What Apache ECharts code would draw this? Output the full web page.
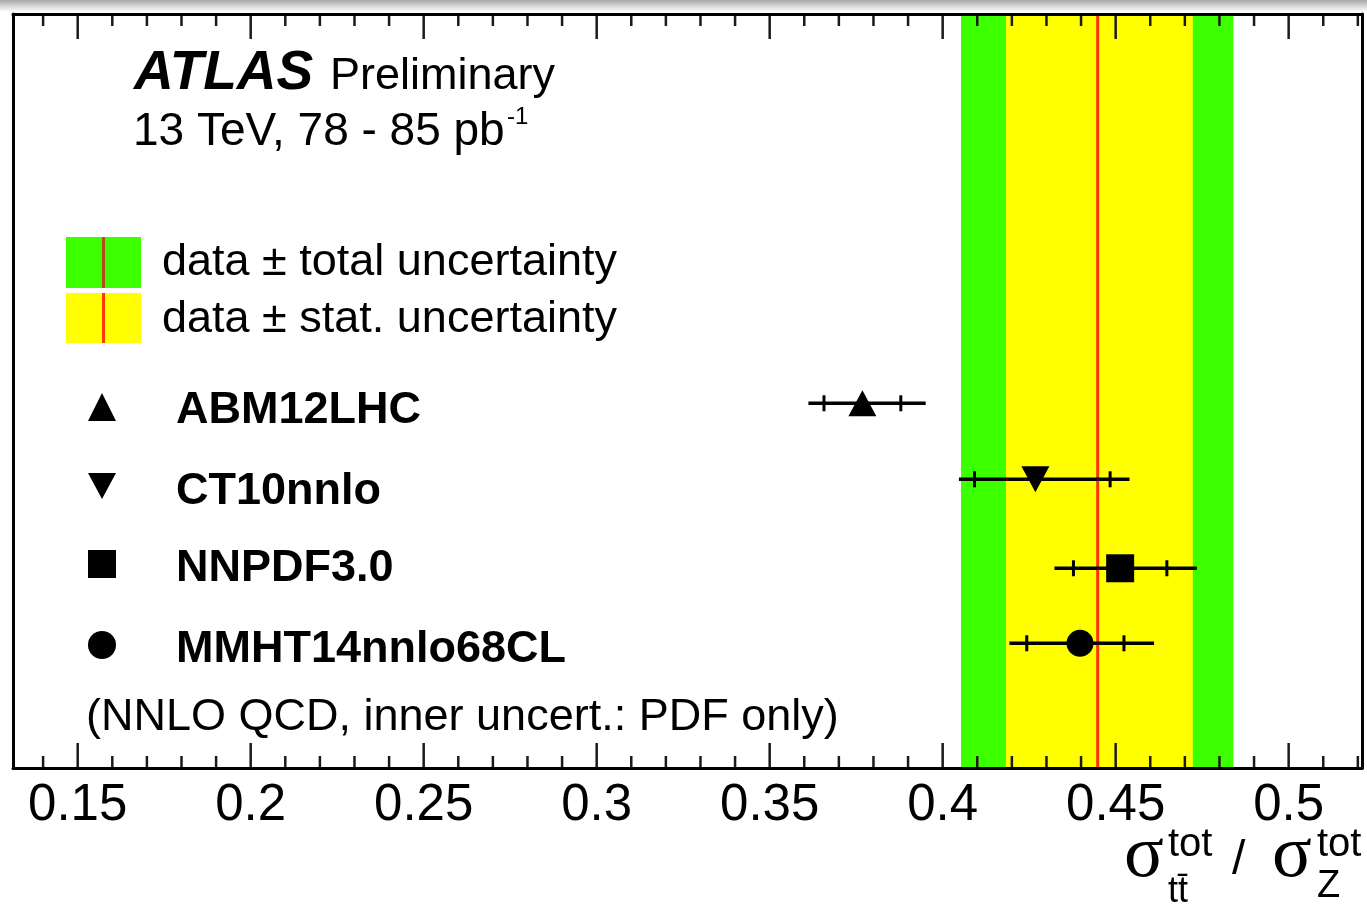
<!DOCTYPE html>
<html>
<head>
<meta charset="utf-8">
<script src="https://cdn.jsdelivr.net/npm/echarts@6/dist/echarts.min.js"></script>
<style>
html,body{margin:0;padding:0;background:#fff;}
#chart{width:1367px;height:910px;}
</style>
</head>
<body>
<div id="chart"></div>
<script>
// ---- data ----
const models = ['ABM12LHC', 'CT10nnlo', 'NNPDF3.0', 'MMHT14nnlo68CL'];
const modelSymbols = ['triangle', 'triangle', 'rect', 'circle'];
const modelRotate = [0, 180, 0, 0];
const rowPos = [0.4837, 0.3829, 0.2649, 0.1654];       // vertical slot of each prediction
const central = [0.3768, 0.4268, 0.4513, 0.4397];
const pdfLow  = [0.3657, 0.4092, 0.4378, 0.4243];
const pdfHigh = [0.3879, 0.4484, 0.4648, 0.4524];
const totLow  = [0.3612, 0.4047, 0.4323, 0.4193];
const totHigh = [0.3951, 0.4540, 0.4735, 0.4611];

const dataValue = 0.4448;
const statLow = 0.4183, statHigh = 0.4723;
const totalLow = 0.4053, totalHigh = 0.4840;

const xMin = 0.1313, xMax = 0.5212;
const majorTicks = [0.15, 0.2, 0.25, 0.3, 0.35, 0.4, 0.45, 0.5];
const minorTicks = [0.14, 0.16, 0.17, 0.18, 0.19, 0.21, 0.22, 0.23, 0.24, 0.26, 0.27, 0.28, 0.29,
  0.31, 0.32, 0.33, 0.34, 0.36, 0.37, 0.38, 0.39, 0.41, 0.42, 0.43, 0.44, 0.46, 0.47, 0.48, 0.49, 0.51, 0.52];

// ---- styling ----
const SANS = '"Liberation Sans", Arimo, Arial, Helvetica, sans-serif';
const SERIF = '"Liberation Serif", "DejaVu Serif", serif';
const GREEN = '#3cff00', YELLOW = '#ffff00', RED = '#ff3300';

const chart = echarts.init(document.getElementById('chart'), null, {renderer: 'canvas'});

function xAxisDef(position, showLabels) {
  return {
    type: 'value', position: position, min: xMin, max: xMax, z: 10,
    axisLine: {show: true, onZero: false, lineStyle: {color: '#000', width: 3}},
    axisTick: {show: false},
    axisLabel: showLabels ? {show: true, customValues: majorTicks, margin: 12, color: '#000',
      fontFamily: SANS, fontSize: 51} : {show: false},
    splitLine: {show: false}
  };
}
function yAxisDef(position) {
  return {
    type: 'value', position: position, min: 0, max: 1, z: 10,
    axisLine: {show: true, onZero: false, lineStyle: {color: '#000', width: 3}},
    axisTick: {show: false}, axisLabel: {show: false}, splitLine: {show: false}
  };
}

// inward tick marks on the bottom and top frame, through the x scale
function tickSeries(name, values, len) {
  return {
    name: name, type: 'custom', z: 6, silent: true, clip: false,
    data: values.map(v => [v, 0]),
    renderItem: function (params, api) {
      const v = api.value(0);
      const b = api.coord([v, 0]);
      const t = api.coord([v, 1]);
      const st = {stroke: '#1a1a1a', lineWidth: 2.5};
      return {type: 'group', children: [
        {type: 'line', shape: {x1: b[0], y1: b[1], x2: b[0], y2: b[1] - len}, style: st},
        {type: 'line', shape: {x1: t[0], y1: t[1], x2: t[0], y2: t[1] + len}, style: st}
      ]};
    }
  };
}

const txt = (text, x, y, size, extra) => Object.assign({
  type: 'text', x: x, y: y, z: 20,
  style: Object.assign({text: text, fill: '#000', font: size + 'px ' + SANS, textVerticalAlign: 'middle'}, extra || {})
});

const legendY = [407, 486, 564, 645];
const legendTextY = [411, 492, 569, 650];
const graphics = [
  {type: 'rect', x: 0, y: 0, z: 0, shape: {width: 1367, height: 12},
   style: {fill: new echarts.graphic.LinearGradient(0, 0, 0, 1, [
     {offset: 0, color: '#a8a8a8'}, {offset: 0.6, color: '#dedede'}, {offset: 1, color: '#ffffff'}])}},
  // ATLAS label
  {type: 'text', x: 134, y: 74, z: 20, style: {text: 'ATLAS', fill: '#000', font: 'italic bold 55px ' + SANS, textVerticalAlign: 'middle'}},
  txt('Preliminary', 330, 77, 45),
  txt('13 TeV, 78 - 85 pb', 133, 132, 46),
  txt('-1', 507, 117, 24),
  // band legend
  {type: 'rect', x: 66, y: 237, z: 20, shape: {width: 75, height: 51}, style: {fill: GREEN}},
  {type: 'rect', x: 102, y: 237, z: 21, shape: {width: 3, height: 51}, style: {fill: '#b24c18'}},
  {type: 'rect', x: 66, y: 293, z: 20, shape: {width: 75, height: 50}, style: {fill: YELLOW}},
  {type: 'rect', x: 102, y: 293, z: 21, shape: {width: 3, height: 50}, style: {fill: '#ff3a00'}},
  txt('data \u00b1 total uncertainty', 162, 263, 45),
  txt('data \u00b1 stat. uncertainty', 162, 320, 45),
  // model legend markers
  {type: 'polygon', z: 20, shape: {points: [[102, legendY[0] - 14], [116, legendY[0] + 14], [88, legendY[0] + 14]]}, style: {fill: '#000'}},
  {type: 'polygon', z: 20, shape: {points: [[88, legendY[1] - 13], [116, legendY[1] - 13], [102, legendY[1] + 13]]}, style: {fill: '#000'}},
  {type: 'rect', z: 20, x: 88, y: legendY[2] - 14, shape: {width: 28, height: 28}, style: {fill: '#000'}},
  {type: 'circle', z: 20, shape: {cx: 102, cy: legendY[3], r: 14}, style: {fill: '#000'}},
  txt('(NNLO QCD, inner uncert.: PDF only)', 86, 718, 45),
  // axis title: sigma_ttbar^tot / sigma_Z^tot
  {type: 'text', x: 1124, y: 857, z: 20, style: {text: '\u03c3', fill: '#000', font: '74px ' + SERIF, textVerticalAlign: 'middle'}},
  txt('tot', 1168, 845, 40),
  txt('tt\u0304', 1168, 892, 36),
  txt('/', 1232, 861, 48),
  {type: 'text', x: 1272, y: 857, z: 20, style: {text: '\u03c3', fill: '#000', font: '74px ' + SERIF, textVerticalAlign: 'middle'}},
  txt('tot', 1317, 845, 40),
  txt('Z', 1317, 887, 38)
];
models.forEach((m, i) => {
  graphics.push({type: 'text', x: 176, y: legendTextY[i], z: 20,
    style: {text: m, fill: '#000', font: 'bold 45px ' + SANS, textVerticalAlign: 'middle'}});
});

const option = {
  animation: false,
  backgroundColor: '#fff',
  grid: {left: 13, right: 5, top: 14, bottom: 142, containLabel: false},
  xAxis: [xAxisDef('bottom', true), xAxisDef('top', false)],
  yAxis: [yAxisDef('left'), yAxisDef('right')],
  series: [
    {
      name: 'bands', type: 'custom', z: 1, silent: true,
      data: [[totalLow, totalHigh, 0], [statLow, statHigh, 1]],
      renderItem: function (params, api) {
        const p0 = api.coord([api.value(0), 1]);
        const p1 = api.coord([api.value(1), 0]);
        return {type: 'rect', shape: {x: p0[0], y: p0[1], width: p1[0] - p0[0], height: p1[1] - p0[1]},
          style: {fill: api.value(2) === 0 ? GREEN : YELLOW}};
      }
    },
    {
      name: 'data', type: 'custom', z: 2, silent: true,
      data: [[dataValue]],
      renderItem: function (params, api) {
        const a = api.coord([api.value(0), 1]);
        const b = api.coord([api.value(0), 0]);
        return {type: 'line', shape: {x1: a[0], y1: a[1], x2: b[0], y2: b[1]}, style: {stroke: RED, lineWidth: 3}};
      }
    },
    tickSeries('majorTicks', majorTicks, 25),
    tickSeries('minorTicks', minorTicks, 12),
    {
      name: 'errors', type: 'custom', z: 3, silent: true,
      data: models.map((m, i) => [rowPos[i], totLow[i], totHigh[i], pdfLow[i], pdfHigh[i]]),
      renderItem: function (params, api) {
        const y = api.value(0);
        const l = api.coord([api.value(1), y]);
        const h = api.coord([api.value(2), y]);
        const il = api.coord([api.value(3), y]);
        const ih = api.coord([api.value(4), y]);
        const st = {stroke: '#000', lineWidth: 3.5};
        return {type: 'group', children: [
          {type: 'line', shape: {x1: l[0], y1: l[1], x2: h[0], y2: h[1]}, style: st},
          {type: 'line', shape: {x1: il[0], y1: il[1] - 8, x2: il[0], y2: il[1] + 8}, style: {stroke: '#000', lineWidth: 3}},
          {type: 'line', shape: {x1: ih[0], y1: ih[1] - 8, x2: ih[0], y2: ih[1] + 8}, style: {stroke: '#000', lineWidth: 3}}
        ]};
      }
    },
    {
      name: 'predictions', type: 'scatter', z: 4, silent: true,
      itemStyle: {color: '#000', opacity: 1},
      data: models.map((m, i) => ({
        name: m,
        value: [central[i], rowPos[i]],
        symbol: modelSymbols[i],
        symbolRotate: modelRotate[i],
        symbolSize: modelSymbols[i] === 'triangle' ? [28, 26] : (modelSymbols[i] === 'rect' ? 28 : 27)
      }))
    }
  ],
  graphic: graphics
};
chart.setOption(option);
</script>
</body>
</html>
